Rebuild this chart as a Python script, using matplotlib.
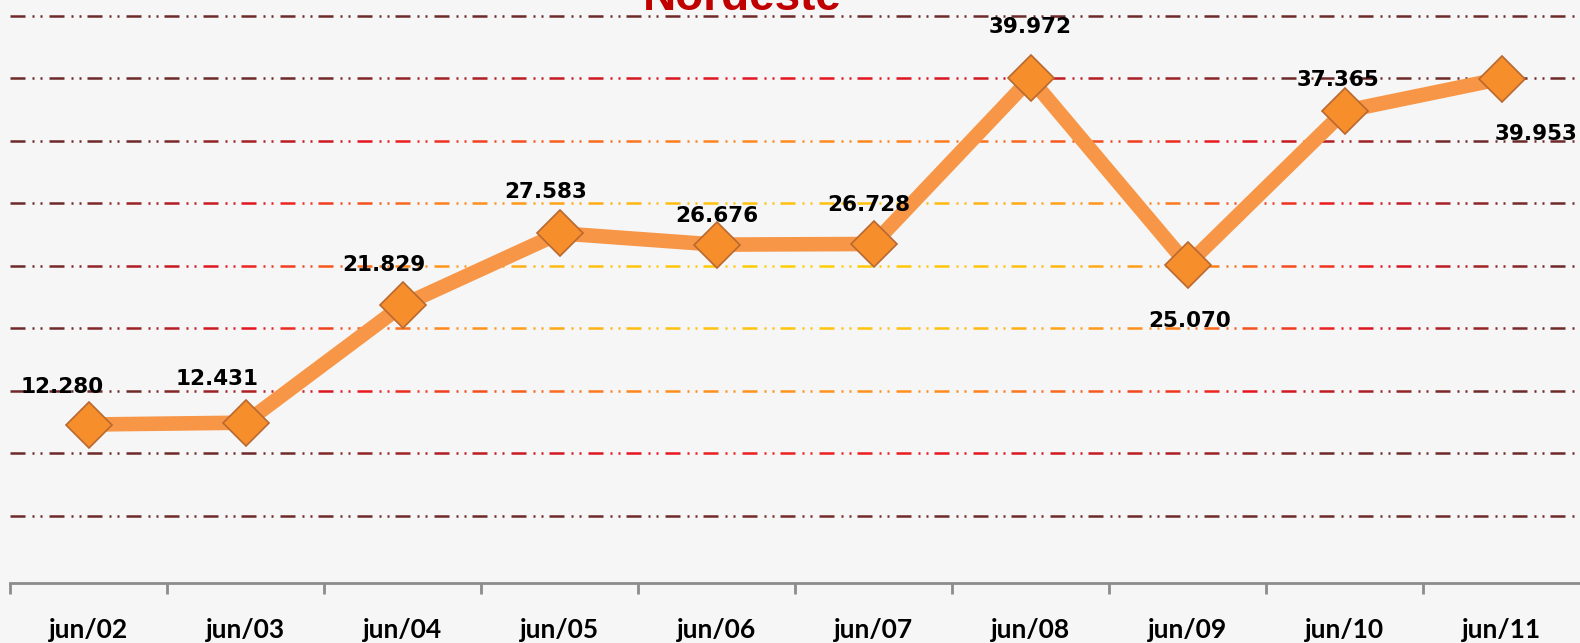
import matplotlib.pyplot as plt
import numpy as np
from matplotlib.collections import LineCollection
from matplotlib.colors import LinearSegmentedColormap

categories = ['jun/02', 'jun/03', 'jun/04', 'jun/05', 'jun/06',
              'jun/07', 'jun/08', 'jun/09', 'jun/10', 'jun/11']
values = [12.280, 12.431, 21.829, 27.583, 26.676,
          26.728, 39.972, 25.070, 37.365, 39.953]
value_labels = ['12.280', '12.431', '21.829', '27.583', '26.676',
                '26.728', '39.972', '25.070', '37.365', '39.953']
grid_values = [5, 10, 15, 20, 25, 30, 35, 40, 45]

# label placement (pixels, relative to the point)
label_offsets = [(-26, 38), (-28, 44), (-19, 40), (-14, 41), (0, 29),
                 (-5, 39), (0, 51), (2, -56), (-6, 31), (35, -55)]

W, H = 1580, 643
fig = plt.figure(figsize=(W / 100, H / 100), dpi=100)
fig.patch.set_facecolor('#f6f6f6')
ax = fig.add_axes([10 / W, 60 / H, 1570 / W, 583 / H])
ax.set_facecolor('#f6f6f6')
ax.set_xlim(-0.5, len(categories) - 0.5)
ax.set_ylim(-0.4, 46.25)

# gradient dash-dot-dot gridlines
cmap = LinearSegmentedColormap.from_list(
    'glow', [(0, '#ffd000'), (0.3, '#ffc010'), (0.52, '#ff8a1e'),
             (0.76, '#e8141f'), (1.0, '#6e2a2a')])
period = 38.5
pieces = [(0, 15), (22, 24), (30, 32)]
x0_px = ax.transData.transform((-0.5, 0))[0]
x1_px = ax.transData.transform((len(categories) - 0.5, 0))[0]
cx, cy = 800, H - 270
segs, cols = [], []
for g in grid_values:
    ypx = ax.transData.transform((0, g))[1]
    start = x0_px
    while start < x1_px:
        for a, b in pieces:
            xa, xb = start + a, min(start + b, x1_px)
            if xa >= x1_px:
                continue
            segs.append([(xa, ypx), (xb, ypx)])
            d = np.hypot(((xa + xb) / 2 - cx) / 760, (ypx - cy) / 250)
            cols.append(cmap(min(d, 1.0)))
        start += period
lc = LineCollection(segs, colors=cols, linewidths=1.8, transform=None,
                    capstyle='butt', zorder=1)
ax.add_collection(lc)

x = np.arange(len(categories))
ax.plot(x, values, color='#f79646', linewidth=10.5, zorder=3,
        solid_joinstyle='miter')
ax.plot(x, values, linestyle='none', marker='D', markersize=23,
        markerfacecolor='#f68e2c', markeredgecolor='#b9692f',
        markeredgewidth=1.2, zorder=4)

for xi, v, lab, (dx, dy) in zip(x, values, value_labels, label_offsets):
    ax.annotate(lab, (xi, v), xytext=(dx, dy), textcoords='offset pixels',
                ha='center', va='center', fontsize=15.5, fontweight='bold',
                family='DejaVu Sans', color='black', zorder=5,
                annotation_clip=False)

for s in ['top', 'right', 'left']:
    ax.spines[s].set_visible(False)
ax.spines['bottom'].set_color('#8c8c8c')
ax.spines['bottom'].set_linewidth(2)
ax.set_yticks([])
ax.set_xticks(x)
ax.set_xticklabels(categories, fontsize=19, fontweight='bold', family='Lato')
ax.tick_params(axis='x', which='major', length=0, pad=25)
ax.set_xticks(np.arange(len(categories)) - 0.5, minor=True)
ax.tick_params(axis='x', which='minor', length=8, width=2, color='#8c8c8c',
               direction='out')

fig.text(742 / W, 1 - 10 / H, 'Nordeste', ha='center', va='baseline',
         fontsize=33, fontweight='bold', color='#c00000',
         family='Liberation Sans')

fig.savefig('out.png', dpi=100, facecolor=fig.get_facecolor())
